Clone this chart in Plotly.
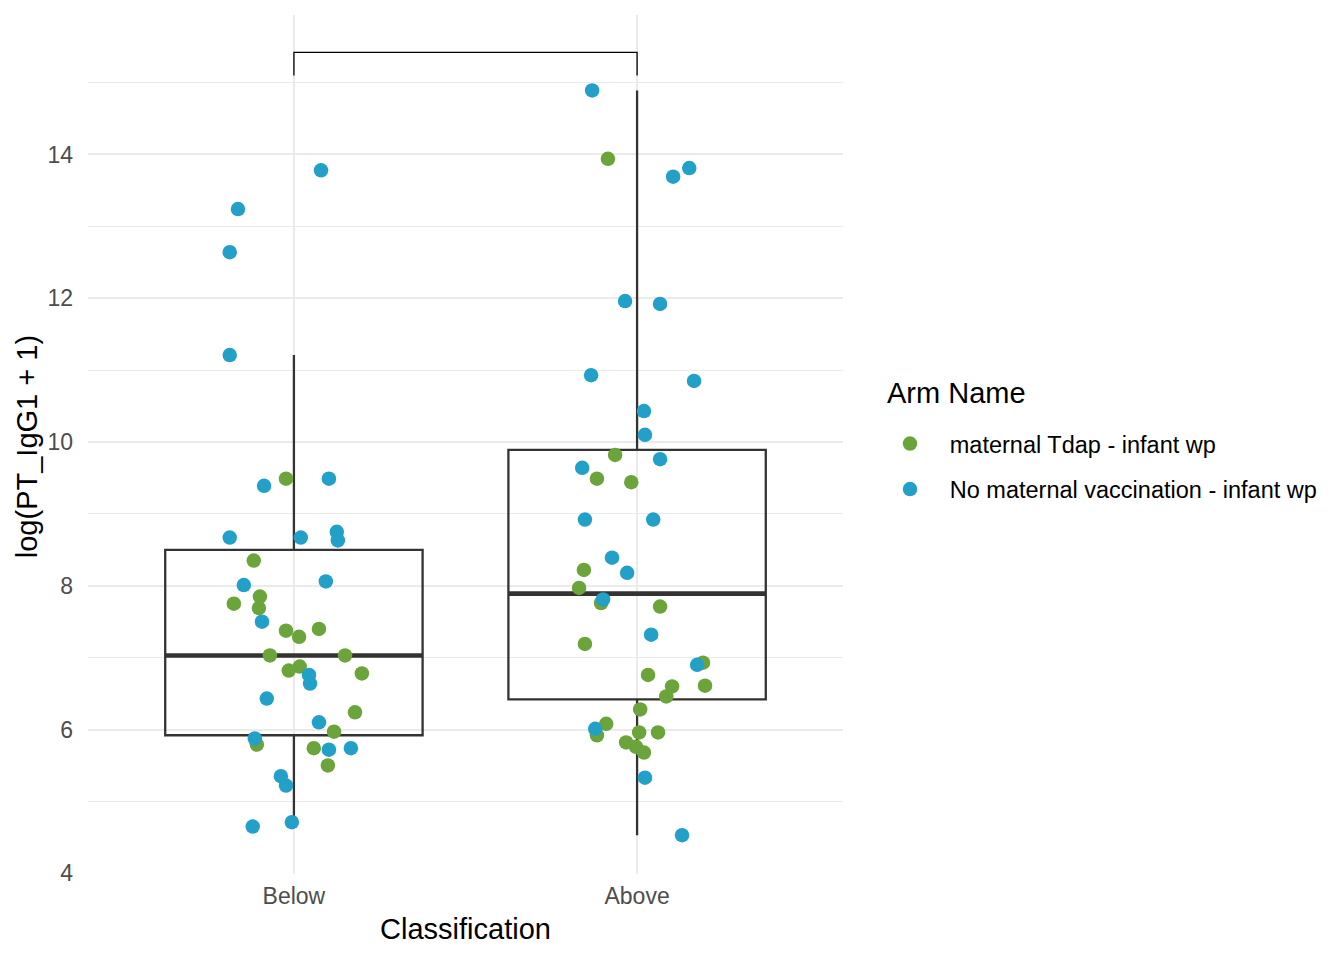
import plotly.graph_objects as go

# categories and group labels
categories = ["Below", "Above"]
arm_names = ["maternal Tdap - infant wp", "No maternal vaccination - infant wp"]
arm_colors = ["#6BA43A", "#22A0C8"]

# box statistics (per category)
box_q1 = [5.92, 6.42]
box_median = [7.03, 7.89]
box_q3 = [8.50, 9.89]
box_lower = [4.75, 4.53]
box_upper = [11.21, 14.89]

# points: log(PT_IgG1 + 1) and horizontal jitter, per category and arm
below_tdap_y = [9.49, 8.35, 7.85, 7.75, 7.69, 7.375, 7.40, 7.29, 7.03, 7.03,
                6.82, 6.875, 6.78, 6.24, 5.97, 5.79, 5.74, 5.50]
below_tdap_jit = [-0.023, -0.117, -0.099, -0.175, -0.102, -0.023, 0.073, 0.015, -0.070, 0.149,
                  -0.015, 0.017, 0.198, 0.178, 0.117, -0.108, 0.058, 0.099]

below_none_y = [13.78, 13.24, 12.64, 11.21, 9.39, 9.49, 8.67, 8.67, 8.75, 8.63,
                8.01, 8.06, 7.50, 6.76, 6.64, 6.43, 6.10, 5.875, 5.72, 5.74,
                5.35, 5.22, 4.65, 4.71]
below_none_jit = [0.079, -0.163, -0.187, -0.187, -0.087, 0.102, -0.187, 0.020, 0.125, 0.128,
                  -0.146, 0.093, -0.093, 0.044, 0.047, -0.079, 0.073, -0.114, 0.102, 0.166,
                  -0.038, -0.023, -0.120, -0.006]

above_tdap_y = [13.94, 9.82, 9.49, 9.44, 8.22, 7.97, 7.76, 7.71, 7.19, 6.93,
                6.76, 6.61, 6.60, 6.46, 6.28, 6.08, 5.92, 5.96, 5.96, 5.82,
                5.76, 5.68]
above_tdap_jit = [-0.085, -0.064, -0.117, -0.017, -0.155, -0.169, -0.105, 0.067, -0.152, 0.192,
                  0.032, 0.198, 0.102, 0.085, 0.009, -0.090, -0.117, 0.006, 0.061, -0.032,
                  -0.003, 0.020]

above_none_y = [14.89, 13.69, 13.81, 11.96, 11.92, 10.93, 10.85, 10.43, 10.10, 9.76,
                9.64, 8.92, 8.92, 8.39, 8.18, 7.81, 7.32, 6.90, 6.01, 5.33, 4.53]
above_none_jit = [-0.131, 0.105, 0.152, -0.035, 0.067, -0.134, 0.166, 0.020, 0.023, 0.067,
                  -0.160, -0.152, 0.047, -0.073, -0.029, -0.099, 0.041, 0.175, -0.122, 0.023,
                  0.131]

# significance bracket (no label shown)
bracket_y = 15.42
bracket_tip = 15.10

FONT = "Liberation Sans, Arial, Helvetica, sans-serif"
pos = [1, 2]
box_w = 0.75

fig = go.Figure()

# boxes
for i, cat in enumerate(categories):
    fig.add_trace(go.Box(
        x=[pos[i]], q1=[box_q1[i]], median=[box_median[i]], q3=[box_q3[i]],
        lowerfence=[box_lower[i]], upperfence=[box_upper[i]],
        width=box_w, whiskerwidth=0, boxpoints=False,
        fillcolor="rgba(0,0,0,0)", line=dict(color="#333333", width=2.3),
        showlegend=False, hoverinfo="skip",
    ))
    # thicker median line, like ggplot's fatten
    fig.add_trace(go.Scatter(
        x=[pos[i] - box_w / 2, pos[i] + box_w / 2], y=[box_median[i], box_median[i]],
        mode="lines", line=dict(color="#333333", width=4.7),
        showlegend=False, hoverinfo="skip",
    ))

groups = [
    (0, [below_tdap_y, above_tdap_y], [below_tdap_jit, above_tdap_jit]),
    (1, [below_none_y, above_none_y], [below_none_jit, above_none_jit]),
]
for arm, ys, jits in groups:
    xs, yy = [], []
    for i in range(len(categories)):
        xs += [pos[i] + j for j in jits[i]]
        yy += ys[i]
    fig.add_trace(go.Scatter(
        x=xs, y=yy, mode="markers", name="\u00a0\u00a0\u2009" + arm_names[arm],
        legendgroup=arm_names[arm],
        marker=dict(color=arm_colors[arm], size=14.5, line=dict(width=0)),
    ))

# bracket
fig.add_shape(type="path",
              path=f"M {pos[0]},{bracket_tip} L {pos[0]},{bracket_y} L {pos[1]},{bracket_y} L {pos[1]},{bracket_tip}",
              line=dict(color="black", width=1.3), xref="x", yref="y")

# legend title
fig.add_annotation(text="Arm Name", xref="paper", yref="paper", x=1.0556, y=0.5602,
                   xanchor="left", yanchor="middle", showarrow=False,
                   font=dict(size=29, color="black"))

# y axis title, placed by hand so it keeps its gap from the tick labels
fig.add_annotation(text="log(PT_IgG1 + 1)", xref="paper", yref="paper", x=-0.0808, y=0.498,
                   xanchor="center", yanchor="middle", textangle=-90, showarrow=False,
                   font=dict(size=29, color="black"))

# page body has an 8px margin, so the figure is 8px smaller than the window
fig.update_layout(
    width=1336, height=952,
    margin=dict(l=80, r=501, t=7, b=85.5),
    plot_bgcolor="white", paper_bgcolor="white",
    font=dict(family=FONT, color="black"),
    legend=dict(
        font=dict(size=23.5, color="black"),
        x=1.0596, xanchor="left", y=0.5265, yanchor="top",
        itemwidth=34, tracegroupgap=12,
        bgcolor="rgba(0,0,0,0)",
    ),
)
fig.update_xaxes(
    range=[0.4, 2.6], tickvals=pos, ticktext=categories,
    showgrid=True, gridcolor="#EBEBEB", gridwidth=2.1, zeroline=False,
    showline=False, ticks="", ticklabelstandoff=6,
    tickfont=dict(size=23, color="#4D4D4D"),
    title=dict(text="Classification", font=dict(size=29, color="black"), standoff=10),
    automargin=False,
)
fig.update_yaxes(
    range=[3.99, 15.94], tickvals=[4, 6, 8, 10, 12, 14],
    showgrid=True, gridcolor="#EBEBEB", gridwidth=2.1, zeroline=False,
    minor=dict(tickvals=[5, 7, 9, 11, 13, 15], showgrid=True, gridcolor="#EBEBEB", gridwidth=1.05),
    showline=False, ticks="", ticklabelstandoff=14,
    tickfont=dict(size=23, color="#4D4D4D"),
    automargin=False,
)

fig.write_html("out.html")
